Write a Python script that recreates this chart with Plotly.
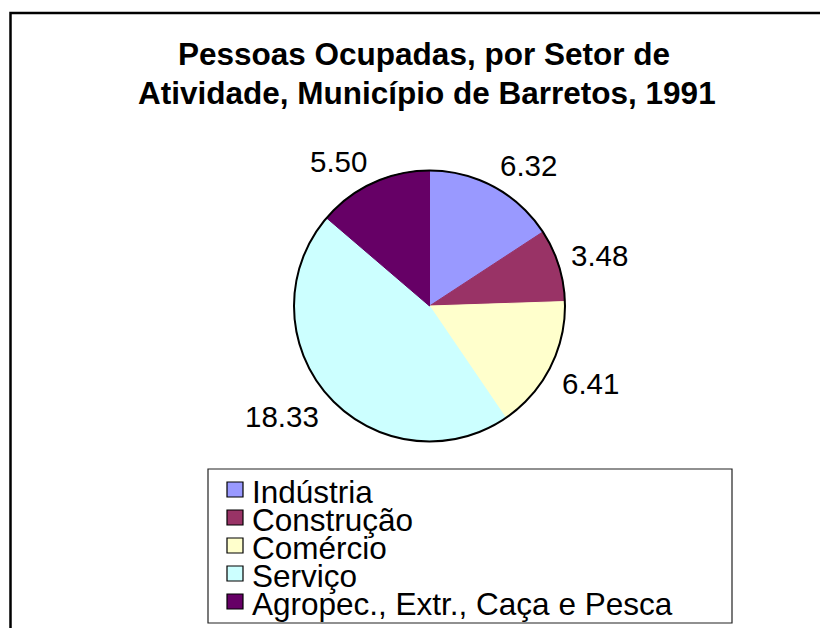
import numpy as np
import plotly.graph_objects as go

categories = ["Indústria", "Construção", "Comércio", "Serviço", "Agropec., Extr., Caça e Pesca"]
values = [6.32, 3.48, 6.41, 18.33, 5.50]
colors = ["#9999FF", "#993366", "#FFFFCC", "#CCFFFF", "#660066"]
title_lines = ["Pessoas Ocupadas, por Setor de", "Atividade, Município de Barretos, 1991"]

W, H = 828, 628
OFF = 8  # page body margin
FONT = "Liberation Sans, Arial, sans-serif"


def px_x(x):
    return (x - OFF) / W


def px_y(y):
    return 1 - (y - OFF) / H


# pie geometry (page pixels)
cx, cy, r = 429.5, 306, 135.5
dom_x = [px_x(cx - r), px_x(cx + r)]
dom_y = [px_y(cy + r), px_y(cy - r)]

fig = go.Figure(go.Pie(
    labels=categories,
    values=values,
    sort=False,
    direction="clockwise",
    rotation=0,
    marker=dict(colors=colors, line=dict(color=colors, width=1)),
    textinfo="none",
    domain=dict(x=dom_x, y=dom_y),
    showlegend=False,
    hoverinfo="label+value",
))

shapes = []
# pie outline
shapes.append(dict(type="circle", xref="paper", yref="paper",
                   x0=dom_x[0], x1=dom_x[1], y0=dom_y[0], y1=dom_y[1],
                   line=dict(color="black", width=2), fillcolor="rgba(0,0,0,0)"))
# chart frame (left and top edges visible)
shapes.append(dict(type="rect", xref="paper", yref="paper",
                   x0=px_x(10.5), x1=1.2, y0=-0.2, y1=px_y(13),
                   line=dict(color="black", width=2.5), fillcolor="rgba(0,0,0,0)"))
# legend box
shapes.append(dict(type="rect", xref="paper", yref="paper",
                   x0=px_x(208), x1=px_x(732), y0=px_y(623), y1=px_y(469),
                   line=dict(color="#222222", width=1.2), fillcolor="rgba(0,0,0,0)"))

annotations = []

# data labels placed outside each slice, from the slice mid-angles
LBL = 29.5
vals = np.array(values, dtype=float)
ends = np.cumsum(vals) / vals.sum() * 2 * np.pi
mids = ends - vals / vals.sum() * np.pi
D, hh = 148, 11
for v, a in zip(values, mids):
    txt = f"{v:.2f}"
    w = LBL * sum(0.278 if ch == "." else 0.556 for ch in txt)
    s, c = np.sin(a), np.cos(a)
    x = cx + D * s + np.clip(3 * s, -1, 1) * w / 2
    y = cy - D * c - np.clip(2 * c, -1, 1) * hh
    annotations.append(dict(text=txt, xref="paper", yref="paper",
                            x=px_x(x), y=px_y(y + 1), xanchor="center", yanchor="middle",
                            showarrow=False,
                            font=dict(family=FONT, size=LBL, color="black")))

# custom legend: swatches + one multi-line text block (tight 28px rows)
row0, step = 489.5, 28
LEG_FS = 31.5
for i, col in enumerate(colors):
    yc = row0 + i * step
    shapes.append(dict(type="rect", xref="paper", yref="paper",
                       x0=px_x(227), x1=px_x(243), y0=px_y(yc + 7.5), y1=px_y(yc - 7.5),
                       line=dict(color="black", width=1.2), fillcolor=col))
legend_text = "<br>".join(f"<span style='font-size:{LEG_FS}px'>{lab}</span>" for lab in categories)
mid_row = row0 + step * (len(categories) - 1) / 2
annotations.append(dict(text=legend_text, xref="paper", yref="paper",
                        x=px_x(250), y=px_y(mid_row + 2), xanchor="left", yanchor="middle",
                        align="left", showarrow=False,
                        font=dict(family=FONT, size=step / 1.3, color="black")))

# title, two lines
for txt, xc, yc in zip(title_lines, [424, 426.5], [53, 92]):
    annotations.append(dict(text="<b>" + txt + "</b>",
                            xref="paper", yref="paper", x=px_x(xc), y=px_y(yc + 1),
                            xanchor="center", yanchor="middle", showarrow=False,
                            font=dict(family=FONT, size=31.5, color="black")))

fig.update_layout(
    width=W, height=H,
    margin=dict(l=0, r=0, t=0, b=0),
    paper_bgcolor="white",
    plot_bgcolor="white",
    shapes=shapes,
    annotations=annotations,
)

fig.write_html("out.html")
